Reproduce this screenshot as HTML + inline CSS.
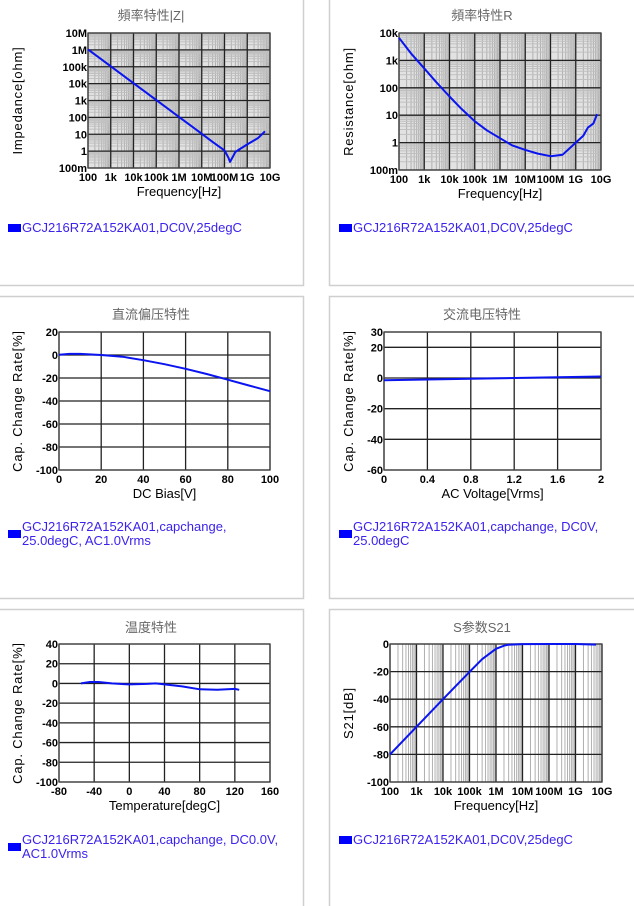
<!DOCTYPE html>
<html><head><meta charset="utf-8"><style>
body{margin:0;width:634px;height:906px;overflow:hidden;background:#fff;font-family:"Liberation Sans","Noto Sans CJK SC",sans-serif}
svg{position:absolute;left:0;top:0}
</style></head><body>
<svg id="s" width="634" height="906" xmlns="http://www.w3.org/2000/svg"></svg>
<script>
// ---- data ----
const zFreq=[1e2,1e3,1e4,1e5,1e6,1e7,3e7,1e8,1.5e8,1.75e8,2.2e8,3e8,1e9,3e9,6e9];
const zVal=[1.06e6,1.06e5,1.06e4,1.06e3,106,10.6,3.5,1.1,0.4,0.23,0.4,0.9,2.5,6,15];
const rFreq=[1e2,3e2,1e3,3e3,1e4,3e4,1e5,3e5,1e6,3e6,1e7,3e7,1e8,3e8,1e9,2e9,3e9,5e9,7e9];
const rVal=[6700,1800,510,160,48,17,6,2.8,1.45,0.8,0.54,0.4,0.32,0.36,1.0,1.8,3.5,5,11];
const sFreq=[1e2,1e3,1e4,1e5,3e5,1e6,2e6,3e6,1e7,1e8,1e9,6e9];
const sVal=[-80,-60,-40,-20.2,-11,-3.5,-1.2,-0.5,-0.1,0,0,-0.4];
const dcV=[0,5,10,20,30,40,50,60,70,80,90,100];
const dcVal=[0.3,1,1,0,-1.5,-4.5,-8,-12,-16.5,-21.5,-26.5,-31.5];
const acV=[0,0.4,0.8,1.2,1.6,2];
const acVal=[-1.5,-1,-0.5,0,0.5,1];
const tT=[-55,-45,-35,-20,0,20,30,40,60,80,100,120,125];
const tVal=[0,1.5,1.5,0,-1,-0.5,0,-1,-3,-6,-6.5,-5.5,-6.5];
const freqTicks=["100","1k","10k","100k","1M","10M","100M","1G","10G"];
const zTicks=["100m","1","10","100","1k","10k","100k","1M","10M"];
const rTicks=["100m","1","10","100","1k","10k"];
const s21Ticks=["0","-20","-40","-60","-80","-100"];
const capTicks=["20","0","-20","-40","-60","-80","-100"];
const acTicks=["30","20","0","-20","-40","-60"];
const dcXTicks=["0","20","40","60","80","100"];
const acXTicks=["0","0.4","0.8","1.2","1.6","2"];
const tXTicks=["-80","-40","0","40","80","120","160"];

const S=document.getElementById('s');const NS='http://www.w3.org/2000/svg';
function el(t,a,name,p){const e=document.createElementNS(NS,t);for(const k in a)e.setAttribute(k,a[k]);


(p||S).appendChild(e);return e;}
function txt(x,y,s,name,o){o=o||{};const e=el('text',{x:x,y:y,'font-size':o.fs||11,'font-weight':o.fw||'normal','text-anchor':o.a||'middle',fill:o.c||'#000'},name,o.p);if(o.ls)e.setAttribute('letter-spacing',o.ls);if(o.rot)e.setAttribute('transform','rotate(-90 '+x+' '+y+')');e.textContent=s;return e;}
[[-2,-2,305,287],[329,-2,310,287],[-2,296,305,302],[329,296,310,302],[-2,609,305,310],[329,609,310,310]].forEach((b,i)=>{
 el('rect',{x:b[0]+.5,y:b[1]+.5,width:b[2],height:b[3],fill:'none',stroke:'#cfcfcf','stroke-width':1.5},'panel-frame-'+(i+1));});

function chart(o){
 const g=el('g',{},o.name);
 const X=o.x0,Y=o.y0,W=o.x1-o.x0,H=o.y1-o.y0;
 el('rect',{x:X,y:Y,width:W,height:H,fill:o.bg||'#fff'},'plot-area',g);
 const sx=o.xlog?v=>X+(Math.log10(v)-o.xmin)/(o.xmax-o.xmin)*W:v=>X+(v-o.xmin)/(o.xmax-o.xmin)*W;
 const sy=o.ylog?v=>o.y1-(Math.log10(v)-o.ymin)/(o.ymax-o.ymin)*H:v=>o.y1-(v-o.ymin)/(o.ymax-o.ymin)*H;
 if(o.xlog){for(let d=o.xmin;d<o.xmax;d++)for(let m=2;m<10;m++){const x=sx(m*Math.pow(10,d));el('line',{x1:x,x2:x,y1:Y,y2:o.y1,stroke:'#b0b0b0','stroke-width':1},'minor-grid-x',g);}}
 if(o.ylog){for(let d=o.ymin;d<o.ymax;d++)for(let m=2;m<10;m++){const y=sy(m*Math.pow(10,d));el('line',{x1:X,x2:o.x1,y1:y,y2:y,stroke:'#c0c0c0','stroke-width':1},'minor-grid-y',g);}}
 o.xt.forEach((t,i)=>{const v=o.xtv[i];const x=sx(v);el('line',{x1:x,x2:x,y1:Y,y2:o.y1,stroke:'#222','stroke-width':1.3},'major-grid-x',g);
   txt(x,o.y1+13,t,'x-tick-label',{fw:'bold',p:g});});
 o.yt.forEach((t,i)=>{const v=o.ytv[i];const y=sy(v);el('line',{x1:X,x2:o.x1,y1:y,y2:y,stroke:'#222','stroke-width':1.3},'major-grid-y',g);
   txt(X-1,y+4,t,'y-tick-label',{fw:'bold',a:'end',p:g});});
 el('rect',{x:X,y:Y,width:W,height:H,fill:'none',stroke:'#444','stroke-width':1.3},'plot-frame',g);
 let d='';o.xs.forEach((v,i)=>{d+=(i?'L':'M')+sx(v).toFixed(1)+' '+sy(o.ys[i]).toFixed(1);});
 el('path',{d:d,fill:'none',stroke:'#0a14f0','stroke-width':2,'stroke-linejoin':'round'},'data-line',g);
 txt((X+o.x1)/2,o.y1+28,o.xtitle,'x-axis-title',{fs:13,p:g});
 txt(o.ytx,(Y+o.y1)/2,o.ytitle,'y-axis-title',{fs:13,ls:'0.8',rot:1,p:g});
 txt(o.tx,o.ty,o.title,'chart-title',{fs:13,c:'#666',p:g});
 el('rect',{x:o.lx,y:o.lr,width:13,height:8,fill:'#0000ff'},'legend-swatch',g);
 o.leg.forEach((l,i)=>txt(o.lx+14,o.ly+i*14,l,'legend-label',{fs:13,a:'start',c:'#3b22ee',p:g}));
}
const fv=[2,3,4,5,6,7,8,9,10].map(e=>Math.pow(10,e));
chart({name:'impedance-chart',x0:88,x1:270,y0:33,y1:168,xlog:1,xmin:2,xmax:10,ylog:1,ymin:-1,ymax:7,
 xt:freqTicks,xtv:fv,yt:zTicks,ytv:[-1,0,1,2,3,4,5,6,7].map(e=>Math.pow(10,e)),xs:zFreq,ys:zVal,bg:'#e2e2e2',
 xtitle:'Frequency[Hz]',ytitle:'Impedance[ohm]',ytx:22,title:'頻率特性|Z|',tx:151,ty:20,
 lx:8,lr:224,ly:232,leg:['GCJ216R72A152KA01,DC0V,25degC']});
chart({name:'resistance-chart',x0:399,x1:601,y0:33,y1:170,xlog:1,xmin:2,xmax:10,ylog:1,ymin:-1,ymax:4,
 xt:freqTicks,xtv:fv,yt:rTicks,ytv:[-1,0,1,2,3,4].map(e=>Math.pow(10,e)),xs:rFreq,ys:rVal,bg:'#e2e2e2',
 xtitle:'Frequency[Hz]',ytitle:'Resistance[ohm]',ytx:353,title:'頻率特性R',tx:482,ty:20,
 lx:339,lr:224,ly:232,leg:['GCJ216R72A152KA01,DC0V,25degC']});
chart({name:'dc-bias-chart',x0:59,x1:270,y0:332,y1:470,xmin:0,xmax:100,ymin:-100,ymax:20,
 xt:dcXTicks,xtv:[0,20,40,60,80,100],yt:capTicks,ytv:[20,0,-20,-40,-60,-80,-100],xs:dcV,ys:dcVal,
 xtitle:'DC Bias[V]',ytitle:'Cap. Change Rate[%]',ytx:22,title:'直流偏压特性',tx:151,ty:319,
 lx:8,lr:530,ly:531,leg:['GCJ216R72A152KA01,capchange,','25.0degC, AC1.0Vrms']});
chart({name:'ac-voltage-chart',x0:384,x1:601,y0:332,y1:470,xmin:0,xmax:2,ymin:-60,ymax:30,
 xt:acXTicks,xtv:[0,0.4,0.8,1.2,1.6,2],yt:acTicks,ytv:[30,20,0,-20,-40,-60],xs:acV,ys:acVal,
 xtitle:'AC Voltage[Vrms]',ytitle:'Cap. Change Rate[%]',ytx:353,title:'交流电压特性',tx:482,ty:319,
 lx:339,lr:530,ly:531,leg:['GCJ216R72A152KA01,capchange, DC0V,','25.0degC']});
chart({name:'temperature-chart',x0:59,x1:270,y0:644,y1:782,xmin:-80,xmax:160,ymin:-100,ymax:40,
 xt:tXTicks,xtv:[-80,-40,0,40,80,120,160],yt:["40","20","0","-20","-40","-60","-80","-100"],ytv:[40,20,0,-20,-40,-60,-80,-100],xs:tT,ys:tVal,
 xtitle:'Temperature[degC]',ytitle:'Cap. Change Rate[%]',ytx:22,title:'温度特性',tx:151,ty:632,
 lx:8,lr:843,ly:844,leg:['GCJ216R72A152KA01,capchange, DC0.0V,','AC1.0Vrms']});
chart({name:'s21-chart',x0:390,x1:602,y0:644,y1:782,xlog:1,xmin:2,xmax:10,ymin:-100,ymax:0,
 xt:freqTicks,xtv:fv,yt:s21Ticks,ytv:[0,-20,-40,-60,-80,-100],xs:sFreq,ys:sVal,
 xtitle:'Frequency[Hz]',ytitle:'S21[dB]',ytx:353,title:'S参数S21',tx:482,ty:632,
 lx:339,lr:836,ly:844,leg:['GCJ216R72A152KA01,DC0V,25degC']});
</script>
</body></html>
